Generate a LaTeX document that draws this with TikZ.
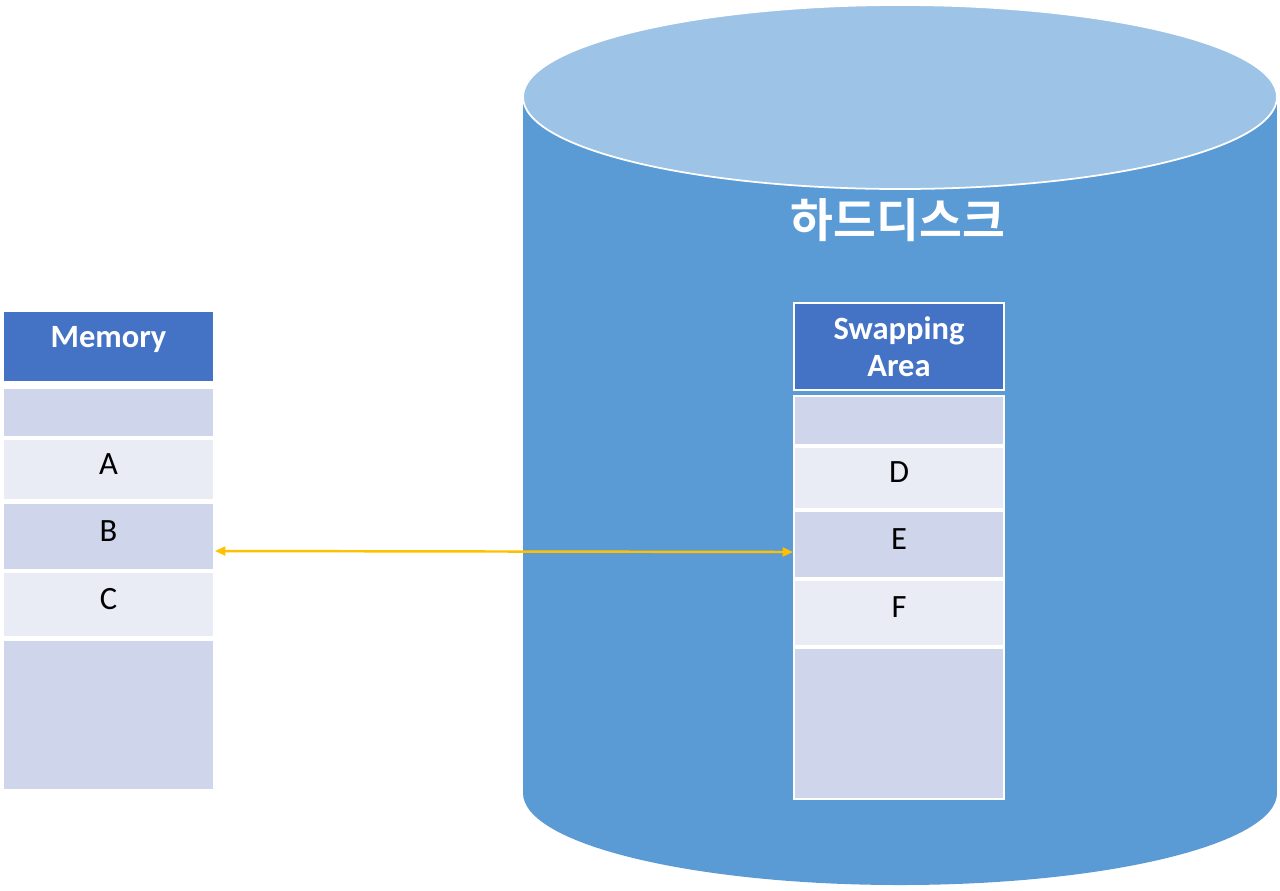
\documentclass[tikz,border=0pt]{standalone}
\usepackage{fontspec}
\setmainfont{Carlito}
\newfontfamily\krfont{Noto Sans CJK KR}[BoldFont={Noto Sans CJK KR Bold}]
\usetikzlibrary{arrows.meta,positioning}
\definecolor{headblue}{HTML}{4472C4}
\definecolor{rowdark}{HTML}{CFD5EA}
\definecolor{rowlight}{HTML}{E9EBF5}
\definecolor{diskblue}{HTML}{5B9BD5}
\definecolor{disktop}{HTML}{9DC3E6}
\definecolor{swapline}{HTML}{FFC000}

\begin{document}
\begin{tikzpicture}[x=0.02cm, y=-0.02cm,
        cell/.style={draw=white, line width=1pt, inner sep=0pt, font=\fontsize{18.5}{20}\selectfont, text depth=0.22cm},
        dark/.style={cell, fill=rowdark},
        light/.style={cell, fill=rowlight},
        head/.style={cell, fill=headblue, text=white, font=\fontsize{18.5}{21}\selectfont\bfseries, align=center, text depth=0pt},
        link/.style={draw=swapline, line width=1.4pt, {Triangle[length=6pt,width=5pt]}-{Triangle[length=6pt,width=5pt]}}]
        \useasboundingbox (0,0) rectangle (1280,890);
        \fill[diskblue] (523,97) rectangle (1277,793);
        \fill[diskblue] (900,793) ellipse [x radius=377, y radius=92];
        \draw[disktop, fill=disktop, draw=white, line width=1pt] (900,97) ellipse [x radius=377, y radius=92];
        \node[text=white, font=\krfont\bfseries\fontsize{26.5}{30}\selectfont] (disk) at (898,220) {하드디스크};
        \node[head, minimum width=4.22cm, minimum height=1.42cm, text depth=0.38cm] (mhead) at (108.5,346.5) {Memory};
        \node[dark, minimum width=4.22cm, minimum height=0.98cm] (m0) at (108.5,412.5) {};
        \node[light, minimum width=4.22cm, minimum height=1.22cm] (mA) at (108.5,469.5) {A};
        \node[dark, minimum width=4.22cm, minimum height=1.34cm] (mB) at (108.5,536.5) {B};
        \node[light, minimum width=4.22cm, minimum height=1.30cm] (mC) at (108.5,604.5) {C};
        \node[dark, minimum width=4.22cm, minimum height=3.00cm] (m4) at (108.5,715) {};
        \node[head, minimum width=4.2cm, minimum height=1.74cm] (shead) at (899,346.5) {Swapping\\Area};
        \node[dark, minimum width=4.2cm, minimum height=0.98cm] (s0) at (899,420.5) {};
        \node[light, minimum width=4.2cm, minimum height=1.24cm] (sD) at (899,478) {D};
        \node[dark, minimum width=4.2cm, minimum height=1.34cm] (sE) at (899,544.5) {E};
        \node[light, minimum width=4.2cm, minimum height=1.32cm] (sF) at (899,613) {F};
        \node[dark, minimum width=4.2cm, minimum height=3.02cm] (s4) at (899,723.5) {};
        \draw[link] ([yshift=-0.29cm]mB.east) -- ([yshift=-0.15cm]sE.west);
\end{tikzpicture}
\end{document}
